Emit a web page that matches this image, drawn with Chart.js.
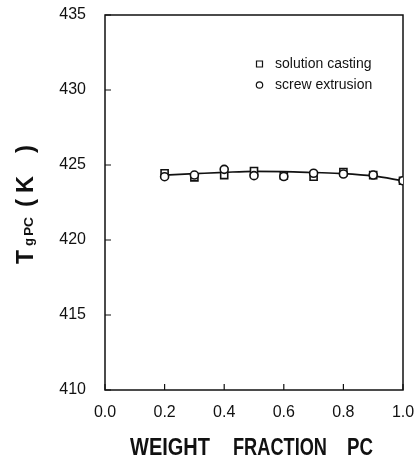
<!DOCTYPE html>
<html>
<head>
<meta charset="utf-8">
<script src="https://cdn.jsdelivr.net/npm/chart.js@4/dist/chart.umd.min.js"></script>
<style>
  html, body { margin: 0; padding: 0; background: #fff; }
  canvas { display: block; }
</style>
</head>
<body>
<canvas id="c" width="418" height="463"></canvas>
<script>
// ---- data ----
const weightFraction = [0.2, 0.3, 0.4, 0.5, 0.6, 0.7, 0.8, 0.9, 1.0];
const solutionCasting = [424.45, 424.18, 424.33, 424.60, 424.30, 424.22, 424.53, 424.33, 423.95];
const screwExtrusion = [424.22, 424.33, 424.71, 424.29, 424.23, 424.45, 424.40, 424.33, 423.95];
const fitCurve = [424.33, 424.42, 424.51, 424.58, 424.56, 424.50, 424.43, 424.27, 423.95];
const xTickValues = [0.0, 0.2, 0.4, 0.6, 0.8, 1.0];
const yTickValues = [410, 415, 420, 425, 430, 435];
const seriesLabels = ['solution casting', 'screw extrusion'];

const toXY = (ys) => weightFraction.map((x, i) => ({ x: x, y: ys[i] }));

const INK = '#111';

const framePlugin = {
  id: 'frame',
  beforeDatasetsDraw(chart) {
    const { ctx, chartArea: a, scales } = chart;
    ctx.save();
    ctx.strokeStyle = INK;
    ctx.lineWidth = 1.5;
    ctx.strokeRect(a.left, a.top, a.right - a.left, a.bottom - a.top);
    // inward ticks
    ctx.lineWidth = 1.2;
    ctx.beginPath();
    xTickValues.forEach(v => {
      const px = scales.x.getPixelForValue(v);
      ctx.moveTo(px, a.bottom);
      ctx.lineTo(px, a.bottom - 6);
    });
    yTickValues.forEach(v => {
      const py = scales.y.getPixelForValue(v);
      ctx.moveTo(a.left, py);
      ctx.lineTo(a.left + 6, py);
    });
    ctx.stroke();
    ctx.restore();
  },
  afterDraw(chart) {
    const { ctx } = chart;
    ctx.save();
    ctx.fillStyle = INK;
    ctx.strokeStyle = INK;

    // legend (inside plot, top right)
    const ds = chart.data.datasets;
    const items = [
      { label: ds[1].label, style: 'rect', y: 64 },
      { label: ds[0].label, style: 'circle', y: 85 }
    ];
    ctx.font = '14px "Liberation Sans", Arial, sans-serif';
    ctx.textBaseline = 'middle';
    ctx.textAlign = 'left';
    ctx.lineWidth = 1.2;
    items.forEach(it => {
      ctx.fillStyle = '#fff';
      ctx.beginPath();
      if (it.style === 'rect') {
        ctx.rect(256.5, it.y - 3, 6, 6);
      } else {
        ctx.arc(259.5, it.y, 3.2, 0, Math.PI * 2);
      }
      ctx.fill();
      ctx.stroke();
      ctx.fillStyle = INK;
      ctx.fillText(it.label, 275, it.y);
    });

    // x-axis title, word by word
    ctx.font = 'bold 24px "Liberation Sans", Arial, sans-serif';
    ctx.textBaseline = 'alphabetic';
    const words = [
      { t: 'WEIGHT', x0: 130, x1: 210 },
      { t: 'FRACTION', x0: 233, x1: 327 },
      { t: 'PC', x0: 347, x1: 373 }
    ];
    words.forEach(w => {
      const m = ctx.measureText(w.t).width;
      const s = (w.x1 - w.x0) / m;
      ctx.save();
      ctx.translate(w.x0, 455);
      ctx.scale(s, 1);
      ctx.fillText(w.t, 0, 0);
      ctx.restore();
    });

    // y-axis title rotated: T_g PC ( K )
    ctx.save();
    ctx.translate(33, 263);
    ctx.rotate(-Math.PI / 2);
    ctx.textBaseline = 'alphabetic';
    ctx.textAlign = 'left';
    const big = 'bold 24px "Liberation Sans", Arial, sans-serif';
    const small = 'bold 12px "Liberation Sans", Arial, sans-serif';
    const glyph = (t, font, x0, x1) => {
      ctx.font = font;
      const m = ctx.measureText(t).width;
      ctx.save();
      ctx.translate(x0, 0);
      ctx.scale((x1 - x0) / m, 1);
      ctx.fillText(t, 0, 0);
      ctx.restore();
    };
    glyph('T', big, -1, 13);
    glyph('g', small, 17, 25);
    glyph('PC', small, 27, 46);
    glyph('(', big, 56, 64);
    glyph('K', big, 70, 87);
    glyph(')', big, 110, 118);
    ctx.restore();

    ctx.restore();
  }
};

new Chart(document.getElementById('c'), {
  type: 'scatter',
  data: {
    datasets: [
      {
        label: seriesLabels[1],
        data: toXY(screwExtrusion),
        pointStyle: 'circle',
        pointRadius: 4,
        pointBackgroundColor: '#fff',
        pointBorderColor: INK,
        pointBorderWidth: 1.6,
        showLine: false
      },
      {
        label: seriesLabels[0],
        data: toXY(solutionCasting),
        pointStyle: 'rect',
        pointRadius: 5,
        pointBackgroundColor: '#fff',
        pointBorderColor: INK,
        pointBorderWidth: 1.6,
        showLine: false
      },
      {
        label: 'fit',
        data: toXY(fitCurve),
        showLine: true,
        pointRadius: 0,
        borderColor: INK,
        borderWidth: 1.7,
        cubicInterpolationMode: 'monotone',
        fill: false
      }
    ]
  },
  options: {
    responsive: false,
    animation: false,
    devicePixelRatio: 1,
    events: [],
    layout: { padding: { left: 0, right: 15, top: 15, bottom: 0 } },
    plugins: {
      legend: { display: false },
      tooltip: { enabled: false },
      title: { display: false }
    },
    scales: {
      x: {
        type: 'linear',
        min: 0, max: 1,
        afterBuildTicks: (scale) => { scale.ticks = xTickValues.map(v => ({ value: v })); },
        grid: { display: false, drawTicks: false },
        border: { display: false },
        ticks: {
          color: INK,
          padding: 13,
          font: { family: '"Liberation Sans", Arial, sans-serif', size: 16 },
          callback: (v) => Number(v).toFixed(1),
          maxRotation: 0,
          autoSkip: false
        },
        afterFit: (scale) => {
          scale.height = 73;
          scale.paddingLeft = 0; scale.paddingRight = 0;
        }
      },
      y: {
        type: 'linear',
        min: 410, max: 435,
        afterBuildTicks: (scale) => { scale.ticks = yTickValues.map(v => ({ value: v })); },
        grid: { display: false, drawTicks: false },
        border: { display: false },
        ticks: {
          color: INK,
          padding: 19,
          font: { family: '"Liberation Sans", Arial, sans-serif', size: 16 },
          autoSkip: false
        },
        afterFit: (scale) => {
          scale.width = 105;
          scale.paddingTop = 0; scale.paddingBottom = 0;
        }
      }
    }
  },
  plugins: [framePlugin]
});
</script>
</body>
</html>
